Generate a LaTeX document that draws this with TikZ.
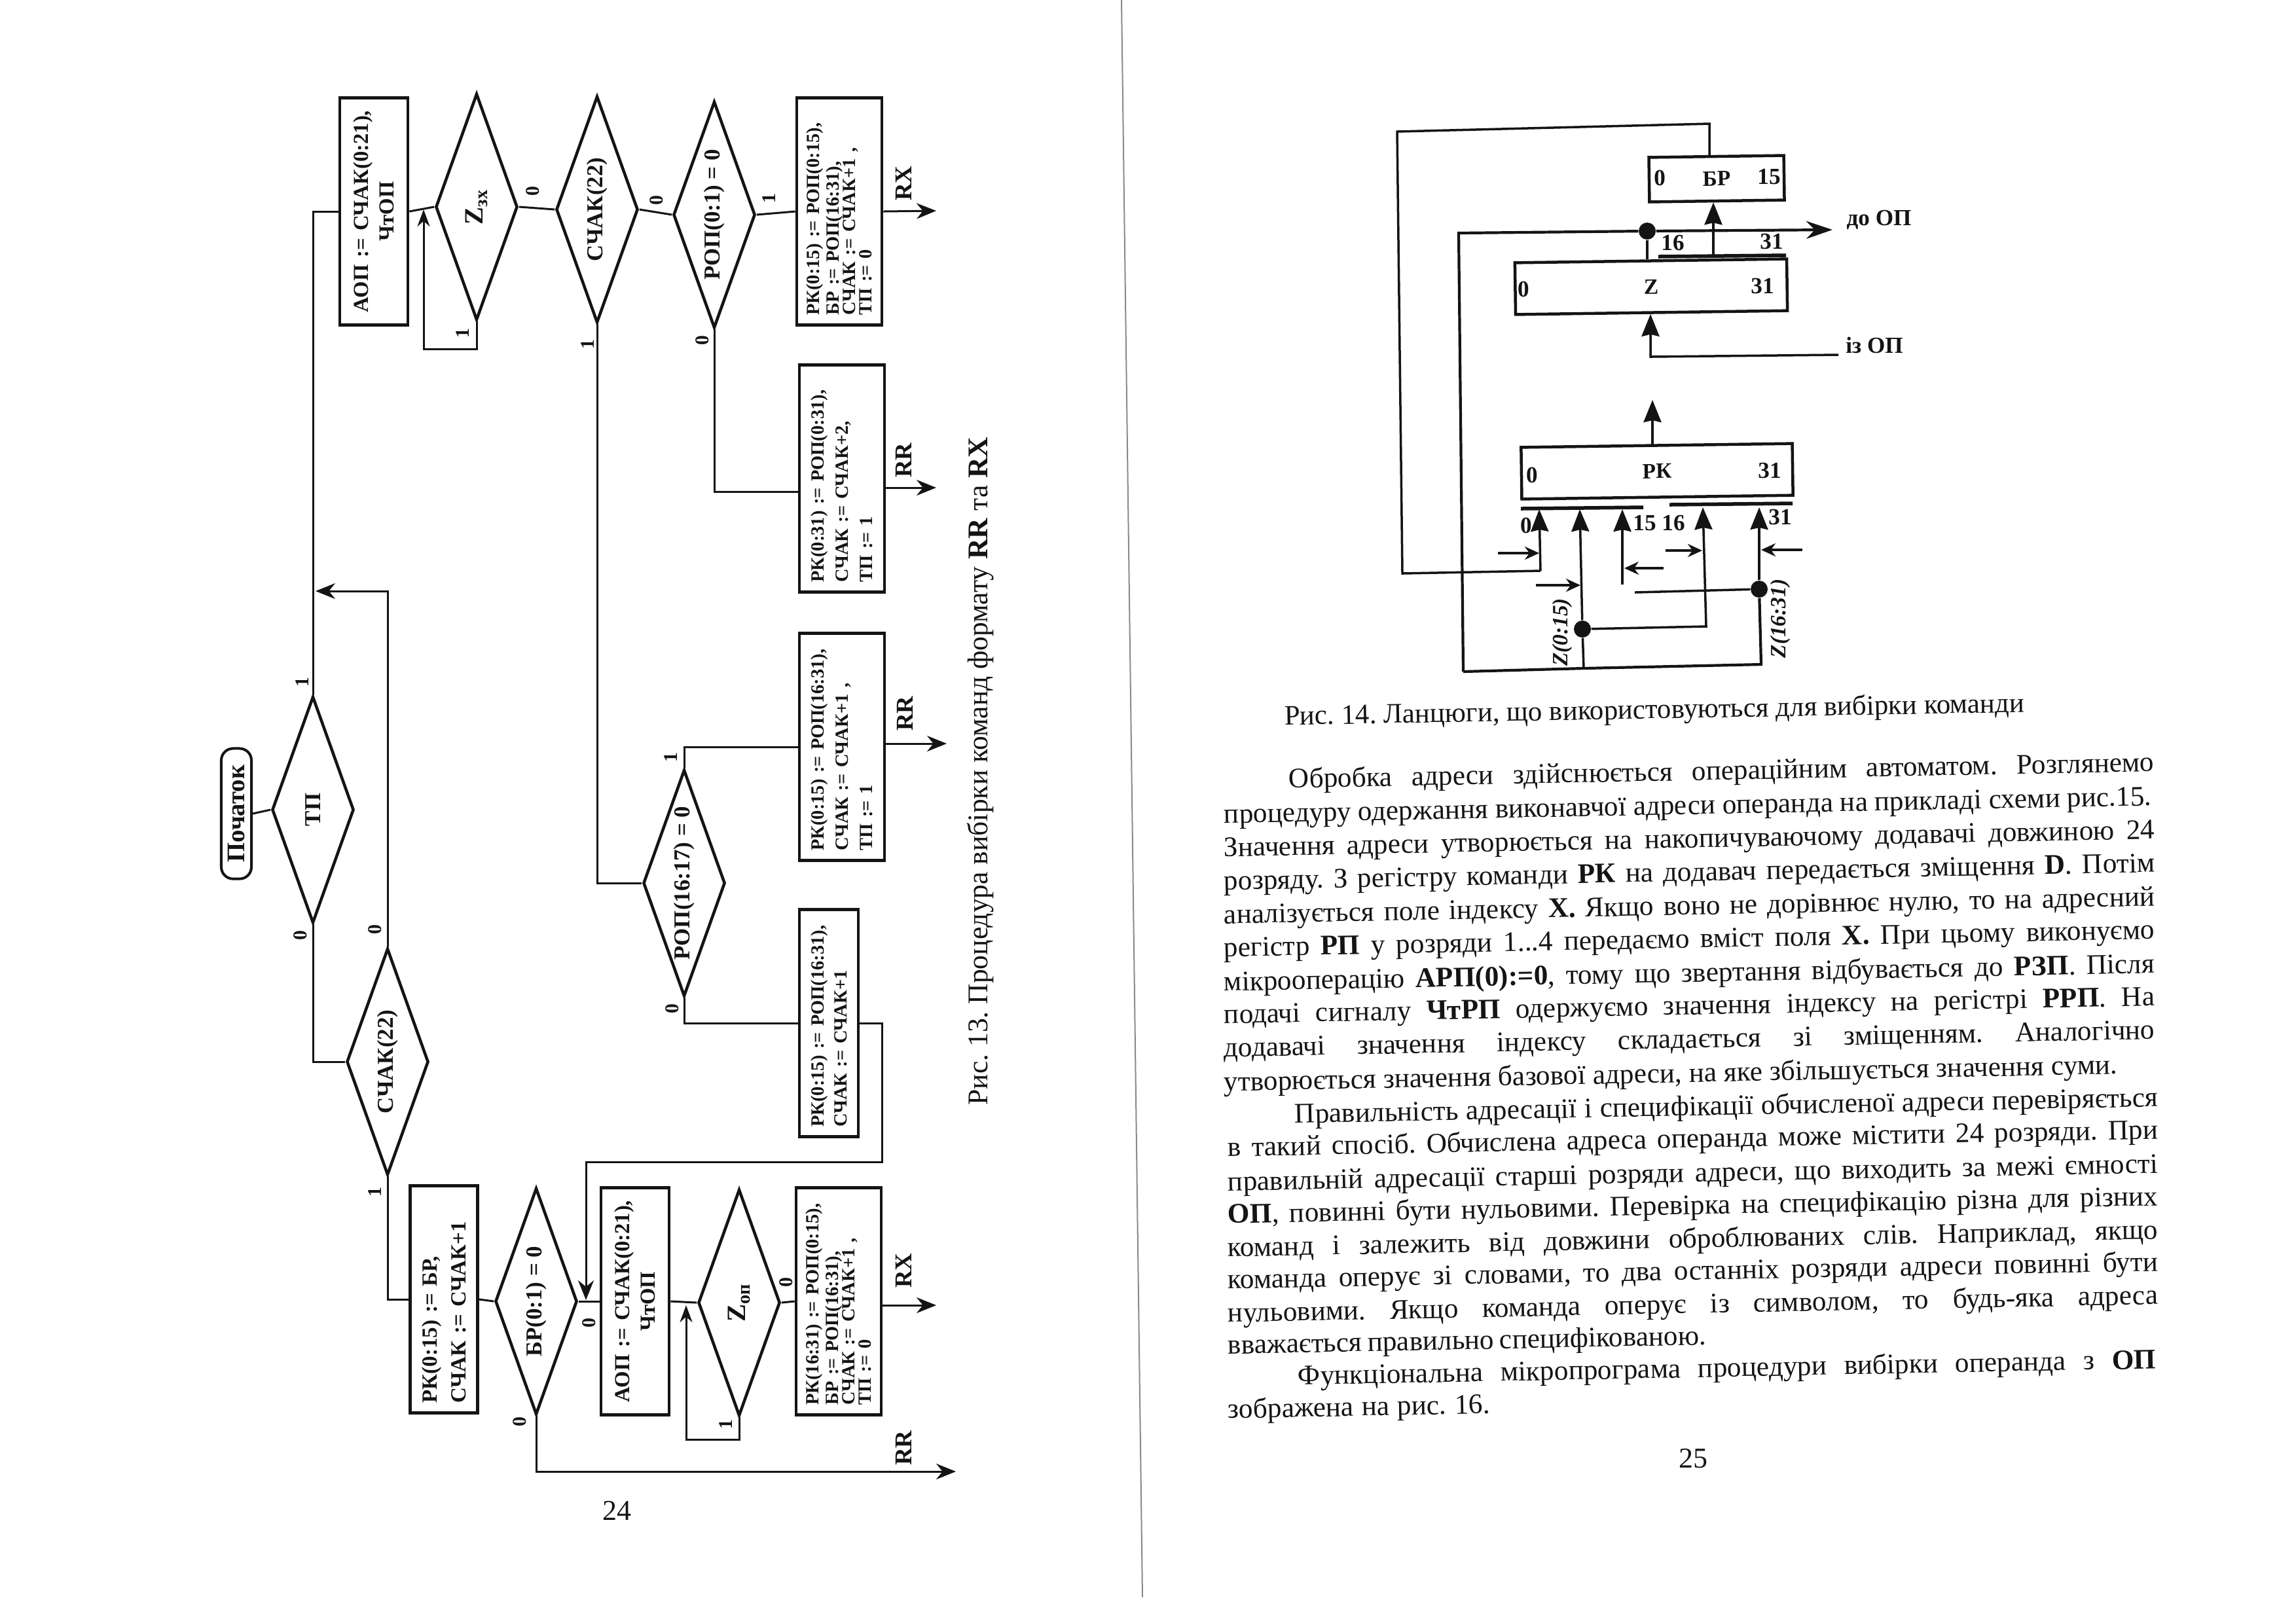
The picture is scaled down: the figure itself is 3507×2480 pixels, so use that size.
\documentclass[tikz,border=0pt]{standalone}
\usepackage{fontspec}
\setmainfont{Liberation Serif}
\usetikzlibrary{arrows.meta,calc,positioning,shapes.geometric}
\definecolor{bkInk}{HTML}{141414}
\definecolor{bkGutter}{HTML}{8A8A8A}
\tikzset{
  bk canvas/.style={fill=white},
  bk wire/.style={draw=bkInk, line width=.03cm},
  bk flow/.style={bk wire, -{Stealth[length=3mm,width=2.4mm]}},
  bk loop/.style={bk wire, -{Stealth[length=2.6mm,width=1.9mm]}},
  bk box/.style={
    draw=bkInk, line width=.045cm, rotate=90, align=left, text=bkInk,
    font=\bfseries\fontsize{8.1}{7.2}\selectfont,
    text width=3.17cm, inner xsep=.15cm, inner ysep=0pt, minimum height=1.3cm
  },
  bk wide lines/.style={font=\bfseries\fontsize{8.1}{10.6}\selectfont},
  bk narrow box/.style={bk box, font=\bfseries\fontsize{8.1}{10}\selectfont, minimum height=.9cm},
  bk cmd box/.style={bk box, align=center, font=\bfseries\fontsize{9.3}{11}\selectfont, minimum height=1.04cm},
  bk load box/.style={bk box, font=\bfseries\fontsize{9.4}{12.4}\selectfont, minimum height=1.03cm},
  bk start/.style={
    draw=bkInk, line width=.04cm, rotate=90, rounded corners=1.8mm, text=bkInk,
    font=\bfseries\fontsize{11}{12}\selectfont, minimum width=1.99cm, minimum height=.46cm, inner sep=0pt
  },
  bk test/.style={
    diamond, draw=bkInk, line width=.045cm, rotate=90, shape aspect=2.77, text=bkInk,
    font=\bfseries\fontsize{9.9}{11}\selectfont, minimum width=3.46cm, minimum height=1.25cm, inner sep=0pt
  },
  bk wait/.style={bk test, font=\bfseries\fontsize{11.5}{12}\selectfont},
  bk flag/.style={rotate=90, text=bkInk, inner sep=0pt, font=\bfseries\fontsize{8.5}{9}\selectfont},
  bk exit/.style={rotate=90, text=bkInk, inner sep=0pt, font=\bfseries\fontsize{10.5}{11}\selectfont},
  bk side caption/.style={rotate=90, text=bkInk, inner sep=0pt, font=\fontsize{12.4}{14}\selectfont},
  bk folio/.style={text=bkInk, inner sep=0pt, font=\fontsize{12.5}{14}\selectfont},
  rg box/.style={draw=bkInk, line width=.045cm, rotate=.8, text=bkInk, inner sep=0pt, font=\bfseries\fontsize{9.5}{10}\selectfont},
  rg tag/.style={text=bkInk, inner sep=0pt, font=\bfseries\fontsize{10}{11}\selectfont},
  rg port/.style={rotate=90, text=bkInk, inner sep=0pt, font=\bfseries\itshape\fontsize{9.5}{10}\selectfont},
  rg dot/.style={circle, fill=bkInk, inner sep=0pt, minimum size=.26cm},
  rg wire/.style={draw=bkInk, line width=.035cm},
  rg bar/.style={draw=bkInk, line width=.055cm},
  rg bus/.style={rg wire, line width=.042cm},
  rg in/.style={rg wire, -{Stealth[length=3.4mm,width=2.7mm,inset=.3mm]}},
  rg out/.style={rg bus, -{Stealth[length=4mm,width=2.7mm]}},
  rg ctl/.style={rg wire, -{Stealth[length=2.2mm,width=2mm]}},
  pg line/.style={anchor=west, rotate=1.1, text=bkInk, inner sep=0pt, font=\fontsize{12.3}{14}\selectfont},
  pg caption/.style={rotate=1, text=bkInk, inner sep=0pt, font=\fontsize{12.2}{14}\selectfont}
}
\newcommand{\pgfit}[2]{\makebox[#1cm][s]{#2}}
\frenchspacing

\begin{document}
\begin{tikzpicture}[x=.01cm,y=-.01cm]
  \useasboundingbox (0,0) rectangle (3507,2480);
  \path[bk canvas] (0,0) rectangle (3507,2480);
  \coordinate (gutterTop) at (1713,0);
  \coordinate (gutterEnd) at (1745,2440);
  \draw[bkGutter, line width=.02cm] (gutterTop) -- (gutterEnd);

  % left page, upper row
  \node[bk cmd box] (aopA) at (571,323) {АОП := СЧАК(0:21),\\ЧтОП};
  \node[bk wait] (zxTest) at (728,316) {Z\textsubscript{зх}};
  \node[bk test] (chakA) at (912,320) {СЧАК(22)};
  \node[bk test] (ropA) at (1091,328) {РОП(0:1) = 0};
  \node[bk box] (rxA) at (1282,323) {РК(0:15) := РОП(0:15),\\БР := РОП(16:31),\\СЧАК := СЧАК+1 ,\\ТП := 0};
  \node[bk box, bk wide lines] (rrA) at (1286,731) {РК(0:31) := РОП(0:31),\\СЧАК := СЧАК+2,\\ТП := 1};
  \node[bk box, bk wide lines] (rrB) at (1286,1141) {РК(0:15) := РОП(16:31),\\СЧАК := СЧАК+1 ,\\ТП := 1};
  \node[bk narrow box] (halfA) at (1266,1563) {РК(0:15) := РОП(16:31),\\СЧАК := СЧАК+1};
  \node[bk test] (ropB) at (1045,1349) {РОП(16:17) = 0};

  % left page, start and lower row
  \node[bk start] (start) at (361,1243) {Початок};
  \node[bk test] (tpTest) at (478,1237) {ТП};
  \node[bk test] (chakB) at (592,1622) {СЧАК(22)};
  \node[bk load box] (rkBr) at (678,1985) {РК(0:15) := БР,\\СЧАК := СЧАК+1};
  \node[bk test] (brTest) at (819,1988) {БР(0:1) = 0};
  \node[bk cmd box] (aopB) at (970,1988) {АОП := СЧАК(0:21),\\ЧтОП};
  \node[bk wait] (zopTest) at (1129,1990) {Z\textsubscript{оп}};
  \node[bk box] (rxB) at (1281,1988) {РК(16:31) := РОП(0:15),\\БР := РОП(16:31),\\СЧАК := СЧАК+1 ,\\ТП := 0};

  \coordinate (joinA) at (482,903);
  \coordinate (loopZx) at (647,533);
  \coordinate (loopZxTip) at (647,320);
  \coordinate (loopZop) at (1048,2199);
  \coordinate (loopZopTip) at (1048,1994);
  \coordinate (backA) at (1347,1775);
  \coordinate (backB) at (895,1775);
  \coordinate (backTip) at (895,1986);
  \coordinate (inRrA) at (1221,751);
  \coordinate (exitRxA) at (1430,322);
  \coordinate (exitRrA) at (1430,745);
  \coordinate (exitRrB) at (1446,1136);
  \coordinate (exitRxB) at (1430,1994);
  \coordinate (exitRrC) at (1460,2248);

  \draw[bk wire] (start.south) -- (tpTest.north);
  \draw[bk wire] (tpTest.east) |- (aopA.north);
  \draw[bk wire] (aopA.south) -- (zxTest.north);
  \draw[bk loop] (zxTest.west) |- (loopZx) -- (loopZxTip);
  \draw[bk wire] (zxTest.south) -- (chakA.north);
  \draw[bk wire] (chakA.south) -- (ropA.north);
  \draw[bk wire] (ropA.south) -- (rxA.north);
  \draw[bk flow] (rxA.south) -- (exitRxA);
  \draw[bk wire] (ropA.west) |- (inRrA);
  \draw[bk flow] (rrA.south |- exitRrA) -- (exitRrA);
  \draw[bk wire] (chakA.west) |- (ropB.north);
  \draw[bk wire] (ropB.east) |- (rrB.north);
  \draw[bk flow] (rrB.south |- exitRrB) -- (exitRrB);
  \draw[bk wire] (ropB.west) |- (halfA.north);
  \draw[bk flow] (halfA.south) -| (backA) -- (backB) -- (backTip);
  \draw[bk wire] (tpTest.west) |- (chakB.north);
  \draw[bk flow] (chakB.east) |- (joinA);
  \draw[bk wire] (chakB.west) |- (rkBr.north);
  \draw[bk wire] (rkBr.south) -- (brTest.north);
  \draw[bk wire] (brTest.south) -- (aopB.north);
  \draw[bk wire] (aopB.south) -- (zopTest.north);
  \draw[bk loop] (zopTest.west) |- (loopZop) -- (loopZopTip);
  \draw[bk wire] (zopTest.south) -- (rxB.north);
  \draw[bk flow] (rxB.south |- exitRxB) -- (exitRxB);
  \draw[bk flow] (brTest.west) |- (exitRrC);

  \node[bk flag] (flagA) at (707,509) {1};
  \node[bk flag] (flagB) at (814,292) {0};
  \node[bk flag] (flagC) at (1003,306) {0};
  \node[bk flag] (flagD) at (1175,303) {1};
  \node[bk flag] (flagE) at (1073,520) {0};
  \node[bk flag] (flagF) at (898,526) {1};
  \node[bk flag] (flagG) at (462,1042) {1};
  \node[bk flag] (flagH) at (459,1429) {0};
  \node[bk flag] (flagI) at (573,1420) {0};
  \node[bk flag] (flagJ) at (573,1821) {1};
  \node[bk flag] (flagK) at (1025,1157) {1};
  \node[bk flag] (flagL) at (1027,1541) {0};
  \node[bk flag] (flagM) at (900,2021) {0};
  \node[bk flag] (flagN) at (1201,1959) {0};
  \node[bk flag] (flagO) at (1109,2176) {1};
  \node[bk flag] (flagP) at (794,2172) {0};
  \node[bk exit] (exitA) at (1380,280) {RX};
  \node[bk exit] (exitB) at (1380,703) {RR};
  \node[bk exit] (exitC) at (1382,1090) {RR};
  \node[bk exit] (exitD) at (1380,1941) {RX};
  \node[bk exit] (exitE) at (1380,2212) {RR};
  \node[bk side caption] (figA) at (1498,1178) {Рис. 13. Процедура вибірки команд формату \textbf{RR} та \textbf{RX}};
  \node[bk folio] (folioA) at (942,2308) {24};

  % right page, registers
  \node[rg box, minimum width=2.06cm, minimum height=.68cm] (regBr) at (2622,273) {БР};
  \node[rg box, minimum width=4.15cm, minimum height=.79cm] (regZ) at (2522,438) {Z};
  \node[rg box, minimum width=4.14cm, minimum height=.79cm] (regRk) at (2531,720) {РК};
  \node[rg tag] (tagBrA) at (2535,272) {0};
  \node[rg tag] (tagBrB) at (2702,270) {15};
  \node[rg tag] (tagZa) at (2327,442) {0};
  \node[rg tag] (tagZb) at (2692,437) {31};
  \node[rg tag] (tagRkA) at (2340,726) {0};
  \node[rg tag] (tagRkB) at (2703,719) {31};
  \node[rg tag] (tagHiA) at (2555,371) {16};
  \node[rg tag] (tagHiB) at (2706,369) {31};
  \node[rg tag] (tagLoA) at (2331,803) {0};
  \node[rg tag] (tagLoB) at (2512,799) {15};
  \node[rg tag] (tagLoC) at (2556,799) {16};
  \node[rg tag] (tagLoD) at (2719,790) {31};
  \node[rg tag] (toMem) at (2870,336) {до ОП};
  \node[rg tag] (fromMem) at (2863,527) {із ОП};
  \node[rg port] (portA) at (2386,966) {Z(0:15)};
  \node[rg port] (portB) at (2719,945) {Z(16:31)};

  \node[rg dot] (dotZ) at (2516,353) {};
  \node[rg dot] (dotA) at (2417,961) {};
  \node[rg dot] (dotB) at (2687,900) {};

  \coordinate (brOut) at (2611,240);
  \coordinate (brTurn) at (2611,189);
  \coordinate (feedA) at (2134,201);
  \coordinate (feedB) at (2142,876);
  \coordinate (feedC) at (2353,872);
  \coordinate (tipA) at (2351,778);
  \coordinate (tipB) at (2413,778);
  \coordinate (tipC) at (2478,778);
  \coordinate (tipD) at (2601,775);
  \coordinate (tipE) at (2687,775);
  \coordinate (stemC) at (2478,893);
  \coordinate (turnD) at (2606,957);
  \coordinate (stubB) at (2497,905);
  \coordinate (busA) at (2228,356);
  \coordinate (busB) at (2235,1026);
  \coordinate (busC) at (2690,1015);
  \coordinate (busD) at (2419,1021);
  \coordinate (toTip) at (2799,351);
  \coordinate (barZa) at (2533,392);
  \coordinate (barZb) at (2728,390);
  \coordinate (barZm) at (2617,391);
  \coordinate (barLa) at (2323,777);
  \coordinate (barLb) at (2510,775);
  \coordinate (barRa) at (2550,771);
  \coordinate (barRb) at (2738,769);
  \coordinate (memIn) at (2808,542);
  \coordinate (memTurn) at (2521,545);
  \coordinate (rkOut) at (2524,681);
  \coordinate (rkTip) at (2524,611);

  \draw[rg wire] (brOut) -- (brTurn) -- (feedA) -- (feedB) -- (feedC);
  \draw[rg in] (feedC) -- (tipA);
  \draw[rg out] (busB) -- (busA) -- (dotZ) -- (toTip);
  \draw[rg wire] (dotZ) -- (dotZ |- regZ.north);
  \draw[rg bar] (barZa) -- (barZb);
  \draw[rg in] (barZm) -- (barZm |- regBr.south);
  \draw[rg in] (memIn) -- (memTurn) -- (memTurn |- regZ.south);
  \draw[rg in] (rkOut) -- (rkTip);
  \draw[rg bar] (barLa) -- (barLb);
  \draw[rg bar] (barRa) -- (barRb);
  \draw[rg bus] (busB) -- (busD) -- (busC) -- (dotB);
  \draw[rg wire] (busD) -- (dotA);
  \draw[rg in] (dotA) -- (tipB);
  \draw[rg in] (stemC) -- (tipC);
  \draw[rg in] (dotA) -- (turnD) -- (tipD);
  \draw[rg in] (dotB) -- (tipE);
  \draw[rg wire] (dotB) -- (stubB);

  \coordinate (ctlA) at (2288,845);
  \coordinate (ctlAe) at (2351,845);
  \coordinate (ctlB) at (2346,894);
  \coordinate (ctlBe) at (2414,894);
  \coordinate (ctlC) at (2541,868);
  \coordinate (ctlCe) at (2481,868);
  \coordinate (ctlD) at (2544,841);
  \coordinate (ctlDe) at (2600,841);
  \coordinate (ctlE) at (2753,840);
  \coordinate (ctlEe) at (2690,840);
  \draw[rg ctl] (ctlA) -- (ctlAe);
  \draw[rg ctl] (ctlB) -- (ctlBe);
  \draw[rg ctl] (ctlC) -- (ctlCe);
  \draw[rg ctl] (ctlD) -- (ctlDe);
  \draw[rg ctl] (ctlE) -- (ctlEe);

  % right page, text
  \node[pg caption] (figB) at (2527,1087) {Рис. 14. Ланцюги, що використовуються для вибірки команди};
  \node[pg line] (lineA) at (1968,1193) {\pgfit{13.21}{Обробка адреси здійснюється операційним автоматом. Розглянемо}};
  \node[pg line] (lineB) at (1869,1248) {\pgfit{14.16}{процедуру одержання виконавчої адреси операнда на прикладі схеми рис.15.}};
  \node[pg line] (lineC) at (1869,1299) {\pgfit{14.21}{Значення адреси утворюється на накопичуваючому додавачі довжиною 24}};
  \node[pg line] (lineD) at (1869,1350) {\pgfit{14.21}{розряду. З регістру команди \textbf{РК} на додавач передається зміщення \textbf{D}. Потім}};
  \node[pg line] (lineE) at (1869,1401) {\pgfit{14.21}{аналізується поле індексу \textbf{X.} Якщо воно не дорівнює нулю, то на адресний}};
  \node[pg line] (lineF) at (1869,1452) {\pgfit{14.21}{регістр \textbf{РП} у розряди 1...4 передаємо вміст поля \textbf{X.} При цьому виконуємо}};
  \node[pg line] (lineG) at (1869,1503) {\pgfit{14.21}{мікрооперацію \textbf{АРП(0):=0}, тому що звертання відбувається до \textbf{РЗП}. Після}};
  \node[pg line] (lineH) at (1869,1554) {\pgfit{14.21}{подачі сигналу \textbf{ЧтРП} одержуємо значення індексу на регістрі \textbf{РРП}. На}};
  \node[pg line] (lineI) at (1869,1605) {\pgfit{14.21}{додавачі значення індексу складається зі зміщенням. Аналогічно}};
  \node[pg line] (lineJ) at (1869,1656) {\pgfit{13.64}{утворюється значення базової адреси, на яке збільшується значення суми.}};
  \node[pg line] (lineK) at (1977,1705) {\pgfit{13.18}{Правильність адресації і специфікації обчисленої адреси перевіряється}};
  \node[pg line] (lineL) at (1875,1756) {\pgfit{14.2}{в такий спосіб. Обчислена адреса операнда може містити 24 розряди. При}};
  \node[pg line] (lineM) at (1875,1809) {\pgfit{14.2}{правильній адресації старші розряди адреси, що виходить за межі ємності}};
  \node[pg line] (lineN) at (1875,1858) {\pgfit{14.2}{\textbf{ОП}, повинні бути нульовими. Перевірка на специфікацію різна для різних}};
  \node[pg line] (lineO) at (1875,1909) {\pgfit{14.2}{команд і залежить від довжини оброблюваних слів. Наприклад, якщо}};
  \node[pg line] (lineP) at (1875,1958) {\pgfit{14.2}{команда оперує зі словами, то два останніх розряди адреси повинні бути}};
  \node[pg line] (lineQ) at (1875,2009) {\pgfit{14.2}{нульовими. Якщо команда оперує із символом, то будь-яка адреса}};
  \node[pg line] (lineR) at (1875,2058) {\pgfit{7.3}{вважається правильно специфікованою.}};
  \node[pg line] (lineS) at (1982,2105) {\pgfit{13.1}{Функціональна мікропрограма процедури вибірки операнда з \textbf{ОП}}};
  \node[pg line] (lineT) at (1875,2156) {\pgfit{4}{зображена на рис. 16.}};
  \node[bk folio] (folioB) at (2586,2228) {25};
\end{tikzpicture}
\end{document}
